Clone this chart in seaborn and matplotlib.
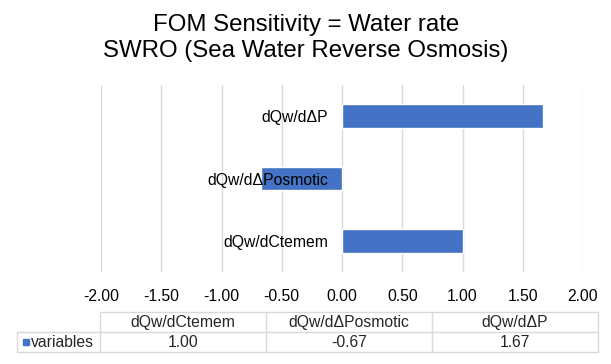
import numpy as np
import pandas as pd
import matplotlib
matplotlib.use("Agg")
import matplotlib.pyplot as plt
from matplotlib.lines import Line2D
from matplotlib.patches import Rectangle
import seaborn as sns

# ---- data ----
categories = ["dQw/dCtemem", "dQw/d\u0394Posmotic", "dQw/d\u0394P"]
values = [1.00, -0.67, 1.67]
series_name = "variables"
x_ticks = [-2.0, -1.5, -1.0, -0.5, 0.0, 0.5, 1.0, 1.5, 2.0]
title_lines = ["FOM Sensitivity = Water rate", "SWRO (Sea Water Reverse Osmosis)"]

sns.set_theme(style="white")
plt.rcParams["font.family"] = ["Liberation Sans", "DejaVu Sans"]
plt.rcParams["axes.unicode_minus"] = False

W, H = 611, 364
fig = plt.figure(figsize=(W / 100, H / 100), dpi=100)
fig.patch.set_facecolor("white")


def fx(px):
    return px / W


def fy(py):
    return 1 - py / H


ax = fig.add_axes([fx(101), fy(272), fx(583) - fx(101), fy(85) - fy(272)])

df = pd.DataFrame({"var": categories, "value": values})
BLUE = "#4472C4"
GRID = "#d9d9d9"
FS = 11.3
sns.barplot(data=df, x="value", y="var", order=categories[::-1], color=BLUE,
            saturation=1, width=0.384, ax=ax)

ax.set_xlim(x_ticks[0], x_ticks[-1])
ax.set_ylim(2.5, -0.5)
ax.set_xticks(x_ticks)
ax.set_xticklabels([f"{t:.2f}" for t in x_ticks])
ax.set_xlabel("")
ax.set_ylabel("")
ax.grid(axis="x", color=GRID, lw=1)
ax.grid(axis="y", visible=False)
ax.set_axisbelow(True)
ax.yaxis.set_zorder(5)
for s in ax.spines.values():
    s.set_visible(False)
ax.spines["left"].set_position(("data", 0))
ax.tick_params(axis="y", length=0, pad=10, labelsize=FS, colors="#000000")
ax.tick_params(axis="x", length=0, pad=12, labelsize=FS, colors="#000000")
ax.set_facecolor("white")

# ---- title ----
fig.text(fx(306), fy(31), title_lines[0], ha="center", va="baseline", fontsize=17.3, color="black")
fig.text(fx(306), fy(57), title_lines[1], ha="center", va="baseline", fontsize=17.3, color="black")

# ---- data table ----
TL = "#d9d9d9"
cols = [100, 266, 432, 598]
rows = [312, 332, 352]
legend_left = 17


def hline(x0, x1, y):
    fig.add_artist(Line2D([fx(x0), fx(x1)], [fy(y), fy(y)], color=TL, lw=1, transform=fig.transFigure))


def vline(x, y0, y1):
    fig.add_artist(Line2D([fx(x), fx(x)], [fy(y0), fy(y1)], color=TL, lw=1, transform=fig.transFigure))


hline(cols[0], cols[-1], rows[0])
hline(legend_left, cols[-1], rows[1])
hline(legend_left, cols[-1], rows[2])
for c in cols:
    vline(c, rows[0], rows[2])
vline(legend_left, rows[1], rows[2])

for i, cat in enumerate(categories):
    cx = (cols[i] + cols[i + 1]) / 2
    fig.text(fx(cx), fy((rows[0] + rows[1]) / 2 + 0.5), cat, ha="center", va="center", fontsize=FS)
    fig.text(fx(cx), fy((rows[1] + rows[2]) / 2 + 0.5), f"{values[i]:.2f}", ha="center", va="center", fontsize=FS)

ry = (rows[1] + rows[2]) / 2
fig.add_artist(Rectangle((fx(22.5), fy(ry + 3)), fx(6), fy(0) - fy(6), color=BLUE,
                         transform=fig.transFigure))
fig.text(fx(30.5), fy(ry + 0.5), series_name, ha="left", va="center", fontsize=FS)

fig.savefig("out.png", dpi=100)
